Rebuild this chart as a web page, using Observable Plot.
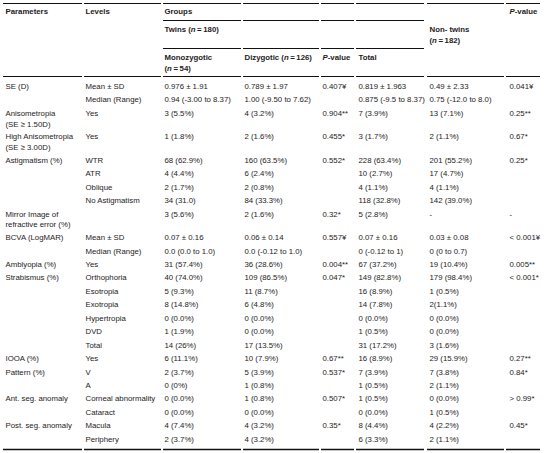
<!DOCTYPE html>
<html><head><meta charset="utf-8">
<script src="https://cdn.jsdelivr.net/npm/d3@7"></script>
<script src="https://cdn.jsdelivr.net/npm/@observablehq/plot@0.6"></script>
<style>html,body{margin:0;padding:0;background:#fff;}</style>
</head><body><div id="chart"></div>
<script>
// ---- table content ----
const headerRow1 = {param: "Parameters", level: "Levels", mono: "Groups", p2: "P-value"};
const headerRow2 = {mono: "Twins (n\u2009=\u2009180)", non: "Non- twins\n(n\u2009=\u2009182)"};
const headerRow3 = {mono: "Monozygotic\n(n\u2009=\u200954)", dizy: "Dizygotic (n\u2009=\u2009126)", p1: "P-value", total: "Total"};

const parameters = ["SE (D)", "", "Anisometropia\n(SE \u2265 1.50D)", "High Anisometropia\n(SE \u2265 3.00D)", "Astigmatism (%)", "", "", "", "Mirror Image of\nrefractive error (%)", "BCVA (LogMAR)", "", "Amblyopia (%)", "Strabismus (%)", "", "", "", "", "", "IOOA (%)", "Pattern (%)", "", "Ant. seg. anomaly", "", "Post. seg. anomaly", ""];
const levels = ["Mean \u00b1 SD", "Median (Range)", "Yes", "Yes", "WTR", "ATR", "Oblique", "No Astigmatism", "", "Mean \u00b1 SD", "Median (Range)", "Yes", "Orthophoria", "Esotropia", "Exotropia", "Hypertropia", "DVD", "Total", "Yes", "V", "A", "Corneal abnormality", "Cataract", "Macula", "Periphery"];
const monozygotic = ["0.976 \u00b1 1.91", "0.94 (-3.00 to 8.37)", "3 (5.5%)", "1 (1.8%)", "68 (62.9%)", "4 (4.4%)", "2 (1.7%)", "34 (31.0)", "3 (5.6%)", "0.07 \u00b1 0.16", "0.0 (0.0 to 1.0)", "31 (57.4%)", "40 (74.0%)", "5 (9.3%)", "8 (14.8%)", "0 (0.0%)", "1 (1.9%)", "14 (26%)", "6 (11.1%)", "2 (3.7%)", "0 (0%)", "0 (0.0%)", "0 (0.0%)", "4 (7.4%)", "2 (3.7%)"];
const dizygotic = ["0.789 \u00b1 1.97", "1.00 (-9.50 to 7.62)", "4 (3.2%)", "2 (1.6%)", "160 (63.5%)", "6 (2.4%)", "2 (0.8%)", "84 (33.3%)", "2 (1.6%)", "0.06 \u00b1 0.14", "0.0 (-0.12 to 1.0)", "36 (28.6%)", "109 (86.5%)", "11 (8.7%)", "6 (4.8%)", "0 (0.0%)", "0 (0.0%)", "17 (13.5%)", "10 (7.9%)", "5 (3.9%)", "1 (0.8%)", "1 (0.8%)", "0 (0.0%)", "4 (3.2%)", "4 (3.2%)"];
const pTwins = ["0.407\u00a5", "", "0.904**", "0.455*", "0.552*", "", "", "", "0.32*", "0.557\u00a5", "", "0.004**", "0.047*", "", "", "", "", "", "0.67**", "0.537*", "", "0.507*", "", "0.35*", ""];
const total = ["0.819 \u00b1 1.963", "0.875 (-9.5 to 8.37)", "7 (3.9%)", "3 (1.7%)", "228 (63.4%)", "10 (2.7%)", "4 (1.1%)", "118 (32.8%)", "5 (2.8%)", "0.07 \u00b1 0.16", "0 (-0.12 to 1)", "67 (37.2%)", "149 (82.8%)", "16 (8.9%)", "14 (7.8%)", "0 (0.0%)", "1 (0.5%)", "31 (17.2%)", "16 (8.9%)", "7 (3.9%)", "1 (0.5%)", "1 (0.5%)", "0 (0.0%)", "8 (4.4%)", "6 (3.3%)"];
const nonTwins = ["0.49 \u00b1 2.33", "0.75 (-12.0 to 8.0)", "13 (7.1%)", "2 (1.1%)", "201 (55.2%)", "17 (4.7%)", "4 (1.1%)", "142 (39.0%)", "-", "0.03 \u00b1 0.08", "0 (0 to 0.7)", "19 (10.4%)", "179 (98.4%)", "1 (0.5%)", "2(1.1%)", "0 (0.0%)", "0 (0.0%)", "3 (1.6%)", "29 (15.9%)", "7 (3.8%)", "2 (1.1%)", "0 (0.0%)", "1 (0.5%)", "4 (2.2%)", "2 (1.1%)"];
const pOverall = ["0.041\u00a5", "", "0.25**", "0.67*", "0.25*", "", "", "", "-", "< 0.001\u00a5", "", "0.005**", "< 0.001*", "", "", "", "", "", "0.27**", "0.84*", "", "> 0.99*", "", "0.45*", ""];

// ---- layout (styling) ----
const W = 544, H = 453;
const colText = {param: 5, level: 85, mono: 164, dizy: 244, p1: 322, total: 358, non: 429, p2: 509};
const colSpan = {param: [3, 82], level: [84, 161], mono: [163, 241], dizy: [243, 319], p1: [321, 354], total: [356, 424], non: [427, 504], p2: [506, 540]};
const allCols = Object.keys(colSpan);
const twinCols = ["mono", "dizy", "p1", "total"];
const LINE = 10.6, ROW0 = 86, STEP = 13.45, EXTRA = 10;
const FONT = "Liberation Sans, Arial, sans-serif", FS = 7.8, INK = "#1e1b1c";

const columns = {param: parameters, level: levels, mono: monozygotic, dizy: dizygotic, p1: pTwins, total: total, non: nonTwins, p2: pOverall};

const cells = [];
function addCell(col, text, y0, bold) {
  if (!text) return;
  text.split("\n").forEach((t, k) => cells.push({x: colText[col], y: y0 + k * LINE, text: t, bold}));
}
for (const [col, t] of Object.entries(headerRow1)) addCell(col, t, 11, true);
for (const [col, t] of Object.entries(headerRow2)) addCell(col, t, 29, true);
for (const [col, t] of Object.entries(headerRow3)) addCell(col, t, 57, true);

let y = ROW0;
for (let i = 0; i < parameters.length; i++) {
  let nl = 1;
  for (const col of allCols) {
    const t = columns[col][i];
    addCell(col, t, y, false);
    if (t) nl = Math.max(nl, t.split("\n").length);
  }
  y += STEP + (nl - 1) * EXTRA;
}

const rules = [];
function addRule(yy, cols, w) { for (const c of cols) rules.push({y: yy, x1: colSpan[c][0], x2: colSpan[c][1], w}); }
addRule(3, allCols, 1.1);
addRule(20, twinCols, 1);
addRule(48, twinCols, 1);
addRule(76, allCols, 1.1);
addRule(449, allCols, 1.5);

const chart = Plot.plot({
  width: W, height: H, margin: 0,
  x: {domain: [0, W], range: [0, W], axis: null},
  y: {domain: [0, H], range: [0, H], axis: null},
  style: {background: "#fff"},
  marks: [
    Plot.ruleY(rules, {y: "y", x1: "x1", x2: "x2", stroke: "#111", strokeWidth: "w"}),
    Plot.text(cells.filter(d => !d.bold), {x: "x", y: "y", text: "text", textAnchor: "start", lineAnchor: "middle", fontSize: FS, fontFamily: FONT, fill: INK}),
    Plot.text(cells.filter(d => d.bold), {x: "x", y: "y", text: "text", textAnchor: "start", lineAnchor: "middle", fontSize: FS, fontFamily: FONT, fontWeight: "bold", fill: INK})
  ]
});
document.getElementById("chart").appendChild(chart);

// italicise statistical symbols (n, P) in header text
const NS = "http://www.w3.org/2000/svg";
chart.querySelectorAll("text").forEach(el => {
  const s = el.textContent;
  const m = s.match(/^(.*?\()n(\u2009=.*)$/) || s.match(/^()P(-value)$/);
  if (!m) return;
  while (el.firstChild) el.removeChild(el.firstChild);
  const a = document.createElementNS(NS, "tspan"); a.textContent = m[1];
  const b = document.createElementNS(NS, "tspan"); b.textContent = s.includes("value") ? "P" : "n"; b.setAttribute("font-style", "italic");
  const c = document.createElementNS(NS, "tspan"); c.textContent = m[2];
  el.append(a, b, c);
});
</script></body></html>
